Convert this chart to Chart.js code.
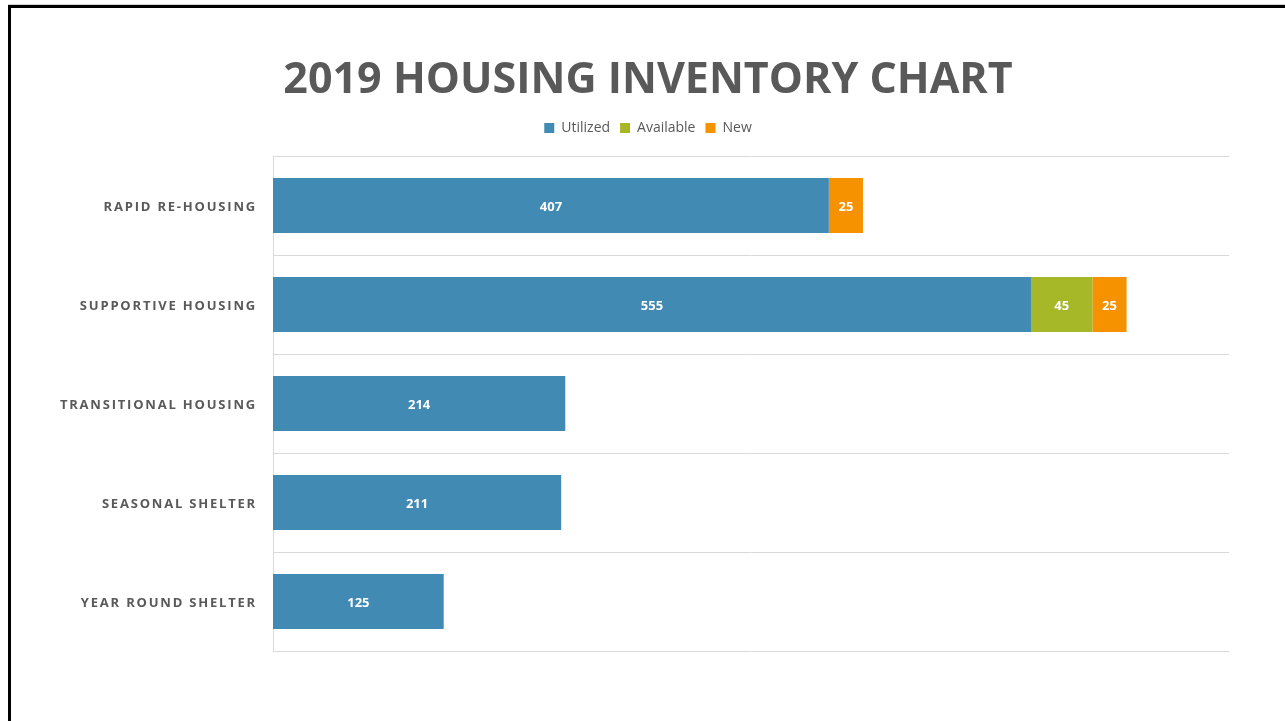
<!DOCTYPE html>
<html>
<head>
<meta charset="utf-8">
<script src="https://cdn.jsdelivr.net/npm/chart.js@4.4.1/dist/chart.umd.min.js"></script>
<style>
html,body{margin:0;padding:0;background:#fff;overflow:hidden}
#wrap{position:relative;width:1285px;height:721px;overflow:hidden}
#c{position:absolute;left:0;top:0}
#frame{position:absolute;left:8px;top:5px;width:1320px;height:760px;border:3px solid #000;box-sizing:border-box;pointer-events:none;box-shadow:0 -1px 0 #d0d0d0}
</style>
</head>
<body>
<div id="wrap">
<canvas id="c" width="1285" height="721"></canvas>
<div id="frame"></div>
</div>
<script>
const categories = ['RAPID RE-HOUSING','SUPPORTIVE HOUSING','TRANSITIONAL HOUSING','SEASONAL SHELTER','YEAR ROUND SHELTER'];
const utilized = [407, 555, 214, 211, 125];
const available = [null, 45, null, null, null];
const newUnits = [25, 25, null, null, null];
const seriesNames = ['Utilized','Available','New'];
const chartTitle = '2019 HOUSING INVENTORY CHART';
const xMax = 700;

const labelPlugin = {
  id: 'barLabels',
  afterDatasetsDraw(chart) {
    const ctx = chart.ctx;
    ctx.save();
    ctx.font = 'bold 13px "Open Sans"';
    ctx.fillStyle = '#ffffff';
    ctx.textAlign = 'center';
    ctx.textBaseline = 'middle';
    chart.data.datasets.forEach((ds, i) => {
      const meta = chart.getDatasetMeta(i);
      meta.data.forEach((bar, j) => {
        const v = ds.data[j];
        if (v === null || v === undefined || v === 0) return;
        const p = bar.getProps(['x','y','base'], true);
        ctx.fillText(String(v), (p.x + p.base) / 2, p.y + 2);
      });
    });
    ctx.restore();
  }
};

const spacingPlugin = {
  id: 'tickSpacing',
  beforeDraw(chart) {
    const s = chart.scales.y;
    if (s && !s._spaced) {
      const orig = s.drawLabels.bind(s);
      s._computeLabelArea = function() { return undefined; };
      s.drawLabels = function(area) {
        const ctx = chart.ctx;
        ctx.save();
        ctx.letterSpacing = '1.8px';
        ctx.translate(0, 1.5);
        orig(area);
        ctx.restore();
      };
      s._spaced = true;
    }
  }
};

new Chart(document.getElementById('c'), {
  type: 'bar',
  data: {
    labels: categories,
    datasets: [
      { label: seriesNames[0], data: utilized, backgroundColor: '#418AB3' },
      { label: seriesNames[1], data: available, backgroundColor: '#A6B727' },
      { label: seriesNames[2], data: newUnits, backgroundColor: '#F69200' }
    ]
  },
  options: {
    indexAxis: 'y',
    responsive: false,
    animation: false,
    devicePixelRatio: 1,
    layout: { padding: { left: 67, right: 56, top: 0, bottom: 70 } },
    datasets: { bar: { barPercentage: 0.556, categoryPercentage: 1 } },
    plugins: {
      title: {
        display: true,
        text: chartTitle,
        color: '#595959',
        font: { family: '"Open Sans"', size: 43, weight: 'bold', lineHeight: 1.2 },
        padding: { top: 55, bottom: 4.4 }
      },
      legend: {
        display: true,
        labels: {
          color: '#595959',
          font: { family: '"Open Sans"', size: 14 },
          boxWidth: 10,
          boxHeight: 10,
          padding: 10
        }
      },
      tooltip: { enabled: false }
    },
    scales: {
      x: {
        position: 'top',
        stacked: true,
        min: 0,
        max: xMax,
        display: true,
        ticks: { display: false },
        grid: { display: false, drawTicks: false },
        border: { display: false },
        afterFit(s) { s.height = 11; }
      },
      y: {
        stacked: true,
        grid: { color: '#D9D9D9', lineWidth: 1, drawTicks: false, offset: true },
        border: { color: '#D9D9D9', width: 1 },
        ticks: {
          color: '#595959',
          font: { family: '"Open Sans"', size: 13, weight: 'bold' },
          padding: 16
        },
        afterFit(s) { s.width = 206; }
      }
    }
  },
  plugins: [labelPlugin, spacingPlugin]
});
</script>
</body>
</html>
